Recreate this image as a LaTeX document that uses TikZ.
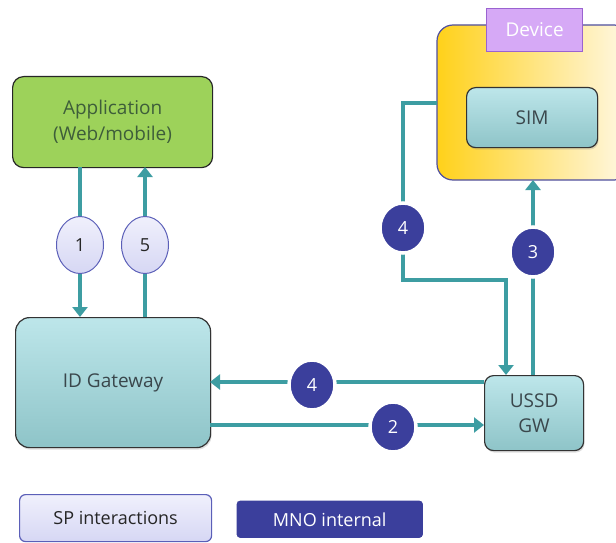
\documentclass[tikz,border=0pt]{standalone}
\usepackage{fontspec}
\setmainfont{Open Sans}
\usetikzlibrary{shadows,arrows.meta,positioning,shapes.geometric}
\definecolor{teal1}{HTML}{3D9DA2}
\definecolor{appgreen}{HTML}{9DD25A}
\definecolor{cyanA}{HTML}{BDE6EA}
\definecolor{cyanB}{HTML}{8EC4C8}
\definecolor{mno}{HTML}{3B3F9C}
\definecolor{spfill}{HTML}{D6D7F4}
\definecolor{sptop}{HTML}{F0F0FC}
\definecolor{spborder}{HTML}{5B5FB8}
\definecolor{devborder}{HTML}{4F4FA0}
\definecolor{devlabel}{HTML}{D6A9F6}
\definecolor{devlabelb}{HTML}{9A63D0}
\definecolor{yelA}{HTML}{FFD11A}
\definecolor{yelB}{HTML}{FFF8E6}
\definecolor{txtgray}{HTML}{3A474C}
\definecolor{apptxt}{HTML}{3E5E3A}
\tikzset{
  x=1pt,y=-1pt,
  flow/.style={draw=teal1,line width=3.6pt,-{Triangle[length=10pt,width=15pt]}},
  cyanbox/.style={draw=black!80,line width=1.2pt,rounded corners=9pt,top color=cyanA,bottom color=cyanB,
     text=txtgray,font=\fontsize{19}{23}\selectfont,align=center,drop shadow={opacity=0.25,shadow xshift=1pt,shadow yshift=-2pt}},
  spcirc/.style={ellipse,draw=spborder,line width=1pt,top color=sptop,bottom color=spfill,
     minimum width=47pt,minimum height=57pt,inner sep=0pt,font=\fontsize{18}{20}\selectfont,text=black!85},
  mnocirc/.style={ellipse,draw=white,line width=3.5pt,fill=mno,text=white,
     minimum width=46pt,minimum height=50pt,inner sep=0pt,font=\fontsize{18}{20}\selectfont,
     drop shadow={opacity=0.2,shadow xshift=0pt,shadow yshift=-1pt}},
  txtbox/.style={font=\fontsize{18}{22}\selectfont},
}
\begin{document}
\begin{tikzpicture}
\useasboundingbox (0,0) rectangle (616,543);
% Device
\path[draw=devborder,line width=1.2pt,rounded corners=16pt,left color=yelA,right color=yelB]
  (437,25) rectangle (630,180);
\node[draw=devlabelb,line width=1.2pt,fill=devlabel,text=white,minimum width=96pt,minimum height=43pt,
  inner sep=0pt,font=\fontsize{19}{22}\selectfont,anchor=north west] (devlbl) at (486,8) {Device};
\node[cyanbox,minimum width=131pt,minimum height=60pt,anchor=north west,inner sep=0pt] (sim) at (466,87) {SIM};
\coordinate (devleft) at (437,103);
\coordinate (devbot) at (533,180);
% Application
\node[draw=black!85,line width=1.2pt,rounded corners=11pt,fill=appgreen,minimum width=200pt,minimum height=91pt,
  anchor=north west,inner sep=0pt,align=center,text=apptxt,font=\fontsize{19}{26}\selectfont] (app) at (12,76)
  {Application\\(Web/mobile)};
% ID Gateway
\node[cyanbox,minimum width=195pt,minimum height=130pt,anchor=north west,inner sep=0pt,rounded corners=14pt] (idg) at (15,317) {ID Gateway};
% USSD
\node[cyanbox,minimum width=99pt,minimum height=75pt,anchor=north west,inner sep=0pt,font=\fontsize{19}{25}\selectfont] (ussd) at (484,375) {USSD\\GW};
% arrows 1 and 5
\coordinate (a1s) at (80,167);
\coordinate (a1e) at (80,317);
\coordinate (a5s) at (145,317);
\coordinate (a5e) at (145,167);
\draw[flow] (a1s) -- (a1e);
\draw[flow] (a5s) -- (a5e);
\node[spcirc] (c1) at (80,245) {\raisebox{-7pt}{1}};
\node[spcirc] (c5) at (145,245) {\raisebox{-7pt}{5}};
% arrow 4 (device to ussd)
\coordinate (b1) at (403,103);
\coordinate (b2) at (403,280);
\coordinate (b3) at (506,280);
\coordinate (b4) at (506,375);
\draw[flow] (devleft) -- (b1) -- (b2) -- (b3) -- (b4);
\node[mnocirc] (c4a) at (403,228) {\raisebox{-5pt}{4}};
% arrow 3
\coordinate (u3) at (533,375);
\draw[flow] (u3) -- (devbot);
\node[mnocirc] (c3) at (533,252) {\raisebox{-5pt}{3}};
% arrow 4 horizontal
\coordinate (h4s) at (484,382);
\coordinate (h4e) at (210,382);
\draw[flow] (h4s) -- (h4e);
\node[mnocirc] (c4b) at (312,385) {\raisebox{-5pt}{4}};
% arrow 2
\coordinate (h2s) at (210,425);
\coordinate (h2e) at (484,425);
\draw[flow] (h2s) -- (h2e);
\node[mnocirc] (c2) at (393,427) {\raisebox{-5pt}{2}};
% legend
\node[draw=spborder,line width=1.2pt,rounded corners=6pt,top color=sptop,bottom color=spfill,
  minimum width=192pt,minimum height=47pt,inner sep=0pt,anchor=north west,txtbox,text=black!85] (lsp) at (19,494) {SP interactions};
\node[draw=white,line width=3.5pt,rounded corners=5pt,fill=mno,text=white,
  minimum width=190pt,minimum height=41pt,inner sep=0pt,anchor=north west,txtbox,
  drop shadow={opacity=0.2,shadow xshift=0pt,shadow yshift=-1pt}] (lmno) at (233,497) {MNO internal};
\end{tikzpicture}
\end{document}
